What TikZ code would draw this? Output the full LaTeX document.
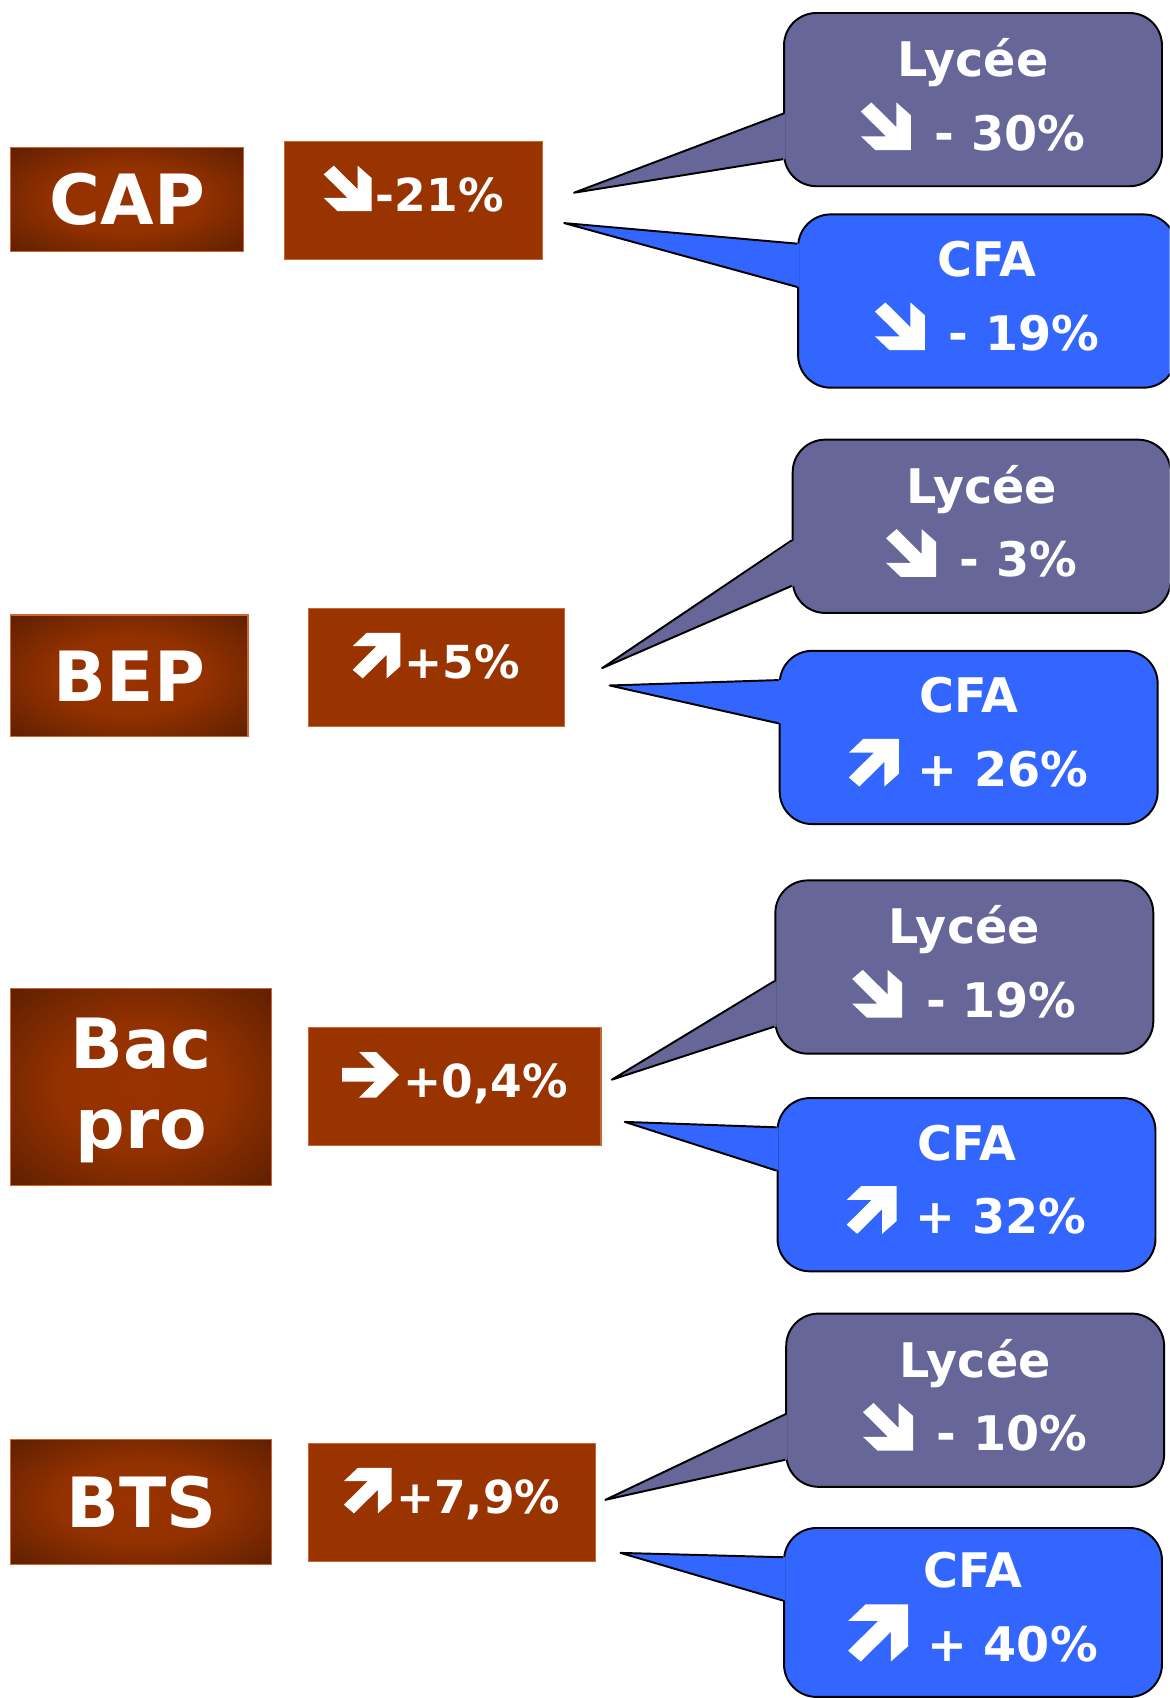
\documentclass[tikz,border=0pt]{standalone}
\usepackage{fontspec}
\setmainfont{DejaVu Sans}
\usepackage{tikz}
\usetikzlibrary{calc}
\definecolor{brick}{HTML}{993300}
\definecolor{darkbrick}{HTML}{4D1A00}
\definecolor{boxline}{HTML}{CC6633}
\definecolor{lycfill}{HTML}{666699}
\definecolor{cfafill}{HTML}{3366FF}
\pgfdeclareradialshading{lblshade}{\pgfpoint{0bp}{0bp}}{color(0bp)=(brick);color(16bp)=(brick!92!darkbrick);color(42bp)=(darkbrick);color(50bp)=(darkbrick)}
% arrow glyphs, sitting on the baseline
\newcommand\arrdn[1][1]{\tikz[baseline=0pt,x=#1*1.05em,y=#1*1em]\fill[white,sharp corners] (0.21,1)--(0.71,0.48)--(0.71,1)--(1,0.73)--(1,0)--(0.29,0)--(0,0.29)--(0.5,0.29)--(0,0.81)--cycle;}
\newcommand\arrup[1][1]{\tikz[baseline=0pt,x=#1*1.05em,y=#1*1em]\fill[white,sharp corners] (0.21,0)--(0.71,0.52)--(0.71,0)--(1,0.27)--(1,1)--(0.29,1)--(0,0.71)--(0.5,0.71)--(0,0.19)--cycle;}
\newcommand\arrrt[1][1]{\tikz[baseline=0pt,x=#1*1.25em,y=#1*1em]\fill[white,sharp corners] (0,0.35)--(0.58,0.35)--(0.30,0)--(0.60,0)--(1,0.5)--(0.60,1)--(0.30,1)--(0.58,0.65)--(0,0.65)--cycle;}

\begin{document}
\begin{tikzpicture}[x=0.5pt,y=-0.5pt,
  lbl/.style={draw=boxline,line width=0.6pt,shade,shading=lblshade,text=white,align=center,inner sep=0pt,
    font=\fontsize{32}{37}\selectfont\bfseries},
  pct/.style={draw=boxline,line width=0.6pt,fill=brick,text=white,inner sep=0pt,minimum height=54.5pt,
    font=\fontsize{21}{25}\selectfont\bfseries,text height=21.5pt,text depth=11.5pt},
  lyc/.style={draw=black,line width=0.9pt,fill=lycfill,rounded corners=15pt,text=white,align=center,
    minimum width=174.5pt,minimum height=80pt,inner sep=0pt,
    font=\fontsize{22}{34}\selectfont\bfseries,text depth=5pt},
  cfa/.style={lyc,fill=cfafill},
  tail/.style={draw=black,line width=0.9pt,line join=round}]
\fill[white] (0,0) rectangle (1080,1568);
\useasboundingbox (0,0) rectangle (1080,1568);
\clip (0,0) rectangle (1080,1568);

% diplomas
\node[lbl,minimum width=107.5pt,minimum height=48pt] (cap) at (117.5,184) {CAP};
\node[lbl,minimum width=109.5pt,minimum height=56pt] (bep) at (119.5,624) {BEP};
\node[lbl,minimum width=120.5pt,minimum height=91pt,text depth=4pt] (bac) at (130.5,1004) {Bac\\pro};
\node[lbl,minimum width=120.5pt,minimum height=58pt] (bts) at (130.5,1387) {BTS};

% overall change
\node[pct,minimum width=119pt] (capv) at (382,185) {\arrdn\hspace{2pt}-21\%};
\node[pct,minimum width=118pt] (bepv) at (403,616.5) {\arrup\hspace{2pt}+5\%};
\node[pct,minimum width=135pt] (bacv) at (420,1003.5) {\arrrt\hspace{2pt}+0,4\%};
\node[pct,minimum width=132.5pt] (btsv) at (417.5,1387.5) {\arrup\hspace{2pt}+7,9\%};

% callouts
\node[lyc] (caplyc) at (898.5,92) {Lycée\\\arrdn\hspace{0.5em}- 30\%};
\node[cfa] (capcfa) at (911.5,278) {CFA\\\arrdn\hspace{0.5em}- 19\%};
\node[lyc] (beplyc) at (906.5,486) {Lycée\\\arrdn\hspace{0.5em}- 3\%};
\node[cfa] (bepcfa) at (894.5,681) {CFA\\\arrup\hspace{0.4em}+ 26\%};
\node[lyc] (baclyc) at (890.5,893) {Lycée\\\arrdn\hspace{0.5em}- 19\%};
\node[cfa] (baccfa) at (892.5,1094) {CFA\\\arrup\hspace{0.4em}+ 32\%};
\node[lyc] (btslyc) at (900.5,1293) {Lycée\\\arrdn\hspace{0.5em}- 10\%};
\node[cfa,minimum height=78pt] (btscfa) at (898.5,1489) {CFA\\\arrup[1.2]\hspace{0.4em}+ 40\%};

% tails
\coordinate (caplyctip) at (530,178);
\coordinate (capcfatip) at (521,206);
\coordinate (beplyctip) at (556,617);
\coordinate (bepcfatip) at (563,633);
\coordinate (baclyctip) at (565,997);
\coordinate (baccfatip) at (577,1036);
\coordinate (btslyctip) at (559,1385);
\coordinate (btscfatip) at (573,1434);

\fill[lycfill] ($(caplyc.west)+(2,13)$) -- (caplyctip) -- ($(caplyc.west)+(2,55)$) -- cycle;
\draw[tail] ($(caplyc.west)+(0,13)$) -- (caplyctip) -- ($(caplyc.west)+(0,55)$);
\fill[cfafill] ($(capcfa.west)+(2,-53)$) -- (capcfatip) -- ($(capcfa.west)+(2,-13)$) -- cycle;
\draw[tail] ($(capcfa.west)+(0,-53)$) -- (capcfatip) -- ($(capcfa.west)+(0,-13)$);

\fill[lycfill] ($(beplyc.west)+(2,13)$) -- (beplyctip) -- ($(beplyc.west)+(2,55)$) -- cycle;
\draw[tail] ($(beplyc.west)+(0,13)$) -- (beplyctip) -- ($(beplyc.west)+(0,55)$);
\fill[cfafill] ($(bepcfa.west)+(2,-53)$) -- (bepcfatip) -- ($(bepcfa.west)+(2,-13)$) -- cycle;
\draw[tail] ($(bepcfa.west)+(0,-53)$) -- (bepcfatip) -- ($(bepcfa.west)+(0,-13)$);

\fill[lycfill] ($(baclyc.west)+(2,13)$) -- (baclyctip) -- ($(baclyc.west)+(2,55)$) -- cycle;
\draw[tail] ($(baclyc.west)+(0,13)$) -- (baclyctip) -- ($(baclyc.west)+(0,55)$);
\fill[cfafill] ($(baccfa.west)+(2,-53)$) -- (baccfatip) -- ($(baccfa.west)+(2,-13)$) -- cycle;
\draw[tail] ($(baccfa.west)+(0,-53)$) -- (baccfatip) -- ($(baccfa.west)+(0,-13)$);

\fill[lycfill] ($(btslyc.west)+(2,13)$) -- (btslyctip) -- ($(btslyc.west)+(2,55)$) -- cycle;
\draw[tail] ($(btslyc.west)+(0,13)$) -- (btslyctip) -- ($(btslyc.west)+(0,55)$);
\fill[cfafill] ($(btscfa.west)+(2,-51)$) -- (btscfatip) -- ($(btscfa.west)+(2,-11)$) -- cycle;
\draw[tail] ($(btscfa.west)+(0,-51)$) -- (btscfatip) -- ($(btscfa.west)+(0,-11)$);
\end{tikzpicture}
\end{document}
